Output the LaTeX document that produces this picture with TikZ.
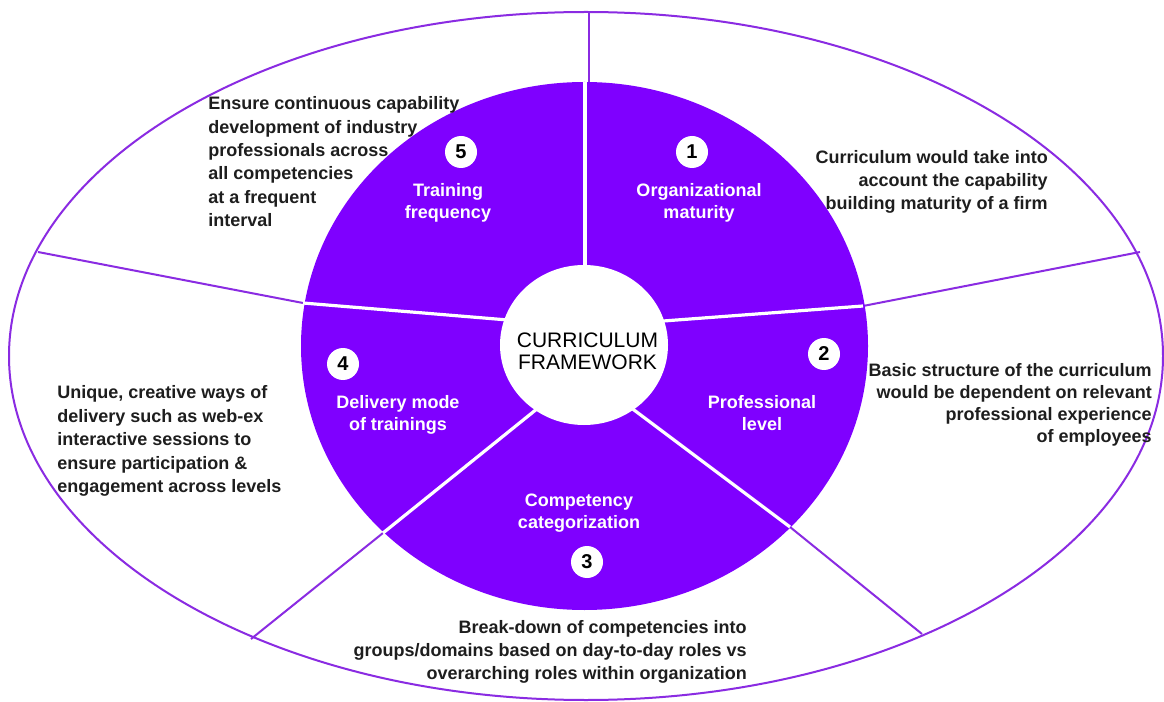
\documentclass[tikz,border=0pt]{standalone}
\usepackage{fontspec}
\setmainfont{Liberation Sans}
\usetikzlibrary{shapes.geometric}
\definecolor{discviolet}{HTML}{7F00FF}
\definecolor{rimviolet}{HTML}{8A2BE2}
\definecolor{inkgray}{HTML}{1E1E1E}

\begin{document}
\begin{tikzpicture}[x=0.75pt,y=-0.75pt,
  rim/.style={draw=rimviolet, line width=1.5pt},
  gap/.style={draw=white, line width=2.4pt},
  note/.style={inner sep=0pt, text=inkgray, font=\fontsize{13.5}{17.4}\selectfont\bfseries},
  segtext/.style={inner sep=0pt, text=white, align=center, anchor=north,
    font=\fontsize{13.5}{16.5}\selectfont\bfseries},
  badge/.style={circle, fill=white, inner sep=0pt, minimum size=24pt, text=black,
    font=\fontsize{15}{15}\selectfont\bfseries},
]
% canvas
\fill[white] (0,0) rectangle (1164,702);
\useasboundingbox (0,0) rectangle (1164,702);

% outer ring
\draw[rim] (586,356) ellipse [x radius=432.75pt, y radius=258pt];

% junctions of the sector dividers
\coordinate (topOut) at (589,12);   \coordinate (topIn) at (589,84);
\coordinate (rOut)   at (1140,252); \coordinate (rIn)   at (863,306);
\coordinate (lOut)   at (38,252);   \coordinate (lIn)   at (303,303);
\coordinate (lrOut)  at (922,634);  \coordinate (lrIn)  at (790,527);
\coordinate (llOut)  at (251,639);  \coordinate (llIn)  at (383,533);

% outer dividers
\draw[rim] (topOut) -- (topIn);
\draw[rim] (rOut) -- (rIn);
\draw[rim] (lOut) -- (lIn);
\draw[rim] (lrOut) -- (lrIn);
\draw[rim] (llOut) -- (llIn);

% violet disc
\node[ellipse, fill=discviolet, draw=none, minimum width=425.25pt, minimum height=396pt,
  inner sep=0pt] (disc) at (584.5,346) {};

% white gaps between the five sectors
\coordinate (topHub) at (585,290); \coordinate (topRim) at (585,82);
\coordinate (rHub)   at (650,322); \coordinate (lHub)   at (520,321);
\coordinate (lrHub)  at (622,401); \coordinate (llHub)  at (548,400);
\draw[gap] (topHub) -- (topRim);
\draw[gap] (rHub) -- (rIn);
\draw[gap] (lHub) -- (lIn);
\draw[gap] (lrHub) -- (lrIn);
\draw[gap] (llHub) -- (llIn);

% hub
\node[ellipse, fill=white, draw=none, minimum width=126pt, minimum height=120pt,
  inner sep=0pt] (hub) at (584,345) {};
\node[inner sep=0pt, align=center, text=black, font=\fontsize{15.75}{16.5}\selectfont]
  (title) at (587.5,351) {CURRICULUM\\FRAMEWORK};

% sector titles
\node[segtext] (s1) at (699,183.5) {Organizational\\maturity};
\node[segtext] (s2) at (762,395.5) {Professional\\level};
\node[segtext] (s3) at (579,493.5) {Competency\\categorization};
\node[segtext] (s4) at (398,395.5) {Delivery mode\\of trainings};
\node[segtext] (s5) at (448,183.5) {Training\\frequency};

% numbered badges
\node[badge] (b1) at (692,152) {1};
\node[badge] (b2) at (824,354) {2};
\node[badge] (b3) at (587,562) {3};
\node[badge] (b4) at (343,364) {4};
\node[badge] (b5) at (461,152) {5};

% descriptions in the outer ring
\node[note, anchor=north west, align=left,
  font=\fontsize{13.5}{17.5}\selectfont\bfseries] (d5) at (208,96.5)
  {Ensure continuous capability\\development of industry\\professionals across\\all competencies\\at a frequent\\interval};
\node[note, anchor=north east, align=right,
  font=\fontsize{13.5}{17.25}\selectfont\bfseries] (d1) at (1048,150.5)
  {Curriculum would take into\\account the capability\\building maturity of a firm};
\node[note, anchor=north east, align=right,
  font=\fontsize{13.5}{16.5}\selectfont\bfseries] (d2) at (1152,363.5)
  {Basic structure of the curriculum\\would be dependent on relevant\\professional experience\\of employees};
\node[note, anchor=north west, align=left,
  font=\fontsize{13.5}{17.6}\selectfont\bfseries] (d4) at (57,385.5)
  {Unique, creative ways of\\delivery such as web-ex\\interactive sessions to\\ensure participation \&\\engagement across levels};
\node[note, anchor=north east, align=right,
  font=\fontsize{13.5}{17.25}\selectfont\bfseries] (d3) at (747,620.5)
  {Break-down of competencies into\\groups/domains based on day-to-day roles vs\\overarching roles within organization};
\end{tikzpicture}
\end{document}
